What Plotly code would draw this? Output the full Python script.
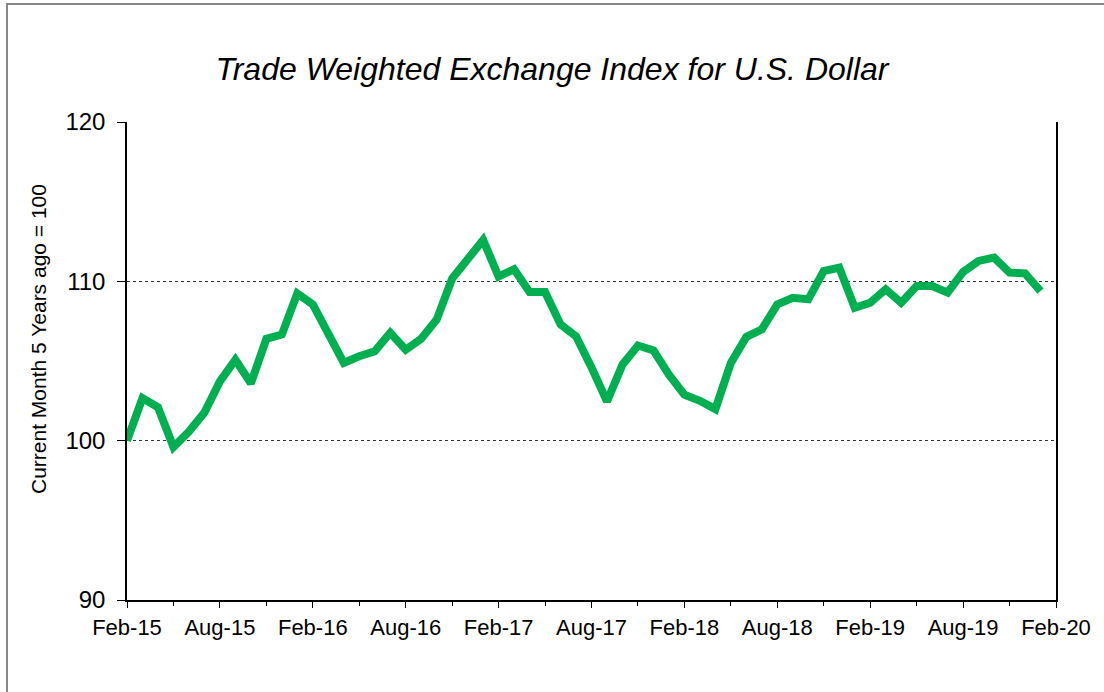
import plotly.graph_objects as go

# ---- data ----
values = [
    100.0, 102.67, 102.1, 99.6, 100.57, 101.77, 103.72, 105.08, 103.6, 106.39,
    106.66, 109.24, 108.55, 106.7, 104.88, 105.3, 105.61, 106.77, 105.71, 106.39,
    107.6, 110.17, 111.39, 112.6, 110.3, 110.76, 109.33, 109.33, 107.29, 106.55,
    104.6, 102.46, 104.77, 105.97, 105.67, 104.14, 102.88, 102.5, 101.98, 104.88,
    106.51, 106.98, 108.55, 108.97, 108.87, 110.65, 110.86, 108.34, 108.66, 109.5,
    108.66, 109.7, 109.7, 109.29, 110.59, 111.28, 111.49, 110.55, 110.5, 109.39,
]
# month index 0 = Feb-15
month_index = list(range(len(values)))
tick_positions = [0, 6, 12, 18, 24, 30, 36, 42, 48, 54, 60]
tick_labels = ["Feb-15", "Aug-15", "Feb-16", "Aug-16", "Feb-17", "Aug-17",
               "Feb-18", "Aug-18", "Feb-19", "Aug-19", "Feb-20"]
y_ticks = [90, 100, 110, 120]

title_text = "Trade Weighted Exchange Index for U.S. Dollar"
y_title = "Current Month 5 Years ago = 100"

FONT = "Liberation Sans, Arial, sans-serif"

W, H = 1104, 692
L, R, T, B = 127, 48, 122, 92
pw, ph = W - L - R, H - T - B

fig = go.Figure()
fig.add_trace(go.Scatter(
    x=month_index, y=values, mode="lines",
    line=dict(color="#00B050", width=8),
    hoverinfo="skip", showlegend=False,
))

fig.update_layout(
    width=W, height=H,
    margin=dict(l=L, r=R, t=T, b=B, pad=0, autoexpand=False),
    paper_bgcolor="white", plot_bgcolor="white",
    font=dict(family=FONT, color="black"),
    title=dict(
        text=title_text,
        font=dict(family=FONT, size=32, color="black", style="italic"),
        x=0.5, xref="container", xanchor="center",
        y=1 - 69 / H, yref="container", yanchor="middle",
    ),
    xaxis=dict(
        range=[0, 60], tickmode="array", tickvals=tick_positions, ticktext=tick_labels,
        showgrid=False, zeroline=False, automargin=False,
        showline=True, linecolor="black", linewidth=1.5,
        ticks="outside", ticklen=6, tickwidth=1.2, tickcolor="black",
        tickfont=dict(family=FONT, size=22, color="black"),
        ticklabelstandoff=1,
        minor=dict(tickmode="linear", tick0=3, dtick=6, ticks="outside",
                   ticklen=4, tickwidth=1.2, tickcolor="black", showgrid=False),
        fixedrange=True,
    ),
    xaxis2=dict(
        range=[0, 60], overlaying="x", anchor="y", side="bottom",
        tickmode="array", tickvals=tick_positions, ticktext=[""] * len(tick_positions),
        showgrid=False, zeroline=False, showline=False, automargin=False,
        ticks="inside", ticklen=6, tickwidth=1.2, tickcolor="black",
        showticklabels=False, fixedrange=True,
    ),
    yaxis=dict(
        range=[90, 120], tickmode="array", tickvals=y_ticks,
        showgrid=True, gridcolor="#333333", gridwidth=1, griddash="dot",
        zeroline=False, automargin=False,
        showline=True, linecolor="black", linewidth=1.5, mirror=True,
        ticks="outside", ticklen=8, tickwidth=1.2, tickcolor="black",
        tickfont=dict(family=FONT, size=24, color="black"),
        ticklabelstandoff=7,
        fixedrange=True,
    ),
    annotations=[dict(
        text=y_title, textangle=-90, showarrow=False,
        xref="paper", yref="paper",
        x=(38 - L) / pw, y=(H - B - 339) / ph,
        xanchor="center", yanchor="middle",
        font=dict(family=FONT, size=21, color="black"),
    )],
    shapes=[dict(
        type="rect", xref="paper", yref="paper",
        x0=(7 - L) / pw, x1=(W + 20 - L) / pw,
        y0=-(B + 20) / ph, y1=(ph + T - 4) / ph,
        line=dict(color="#888888", width=2), fillcolor="rgba(0,0,0,0)", layer="below",
    )],
)

fig.write_html(
    "out.html",
    config={"displayModeBar": False},
    post_script="document.body.style.margin='0';document.body.style.overflow='hidden';",
)
